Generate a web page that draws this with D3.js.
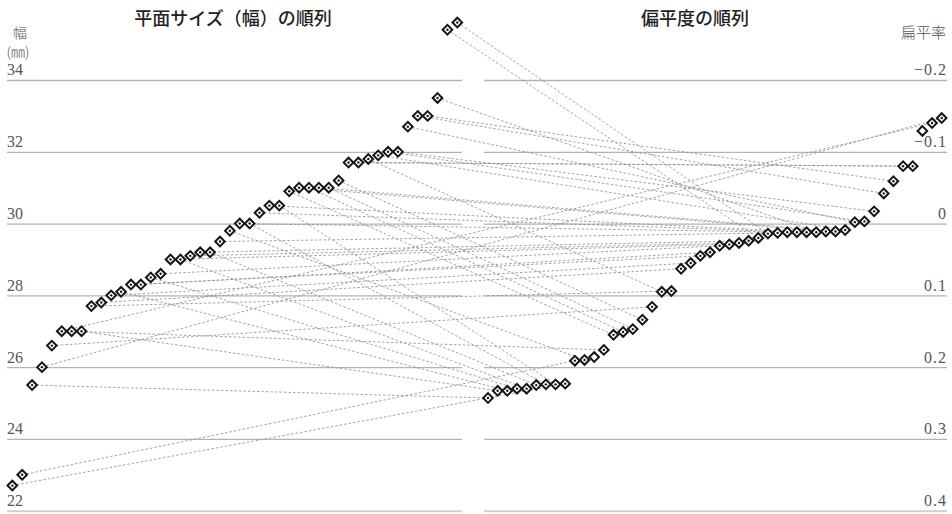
<!DOCTYPE html>
<html><head><meta charset="utf-8">
<script src="https://cdn.jsdelivr.net/npm/d3@7"></script>
<style>body{margin:0;background:#fff}svg{display:block}
.tk text{font-family:"Liberation Serif","DejaVu Serif",serif !important;font-size:16px;fill:#555}</style>
</head><body><svg id="c" width="952" height="514"></svg>
<script>
const widthTicks = [22, 24, 26, 28, 30, 32, 34];
const flatTicks = [-0.2, -0.1, 0, 0.1, 0.2, 0.3, 0.4];
const titleLeft = "平面サイズ（幅）の順列";
const titleRight = "偏平度の順列";
const widthMM = [22.7,23.0,25.5,26.0,26.6,27.0,27.0,27.0,27.7,27.8,28.0,28.1,28.3,28.3,28.5,28.6,29.0,29.0,29.1,29.2,29.2,29.5,29.8,30.0,30.0,30.3,30.5,30.5,30.9,31.0,31.0,31.0,31.0,31.2,31.7,31.7,31.8,31.9,32.0,32.0,32.7,33.0,33.0,33.5,35.4,35.6];
// flatness of the same items, in width order
const flatness = [0.223,0.191,0.243,-0.147,0.116,-0.140,0.176,0.233,0.094,0.063,0.055,0.233,0.045,0.040,0.230,0.031,0.029,0.230,0.027,0.024,0.225,0.013,0.190,0.012,0.224,0.012,0.012,0.224,0.155,0.011,0.151,0.011,0.147,0.134,-0.080,-0.080,0.095,0.009,-0.003,-0.017,-0.002,-0.042,-0.059,0.012,0.020,0.014];
// items with a flatness value but no width
const flatnessNoWidth = [0.186, -0.129];

const svg = d3.select("#c");
const yL = d3.scaleLinear().domain([22, 34]).range([510.7, 80]);
const yR = d3.scaleLinear().domain([-0.2, 0.4]).range([80, 510.7]);

const items = widthMM.map((w, i) => ({id: i, w, f: flatness[i]}));
flatnessNoWidth.forEach((f, k) => items.push({id: widthMM.length + k, w: null, f}));
const leftOrder = items.filter(d => d.w != null);
const rightOrder = items.slice().sort((a, b) => d3.descending(a.f, b.f) || a.id - b.id);

const xL = d3.scalePoint().domain(leftOrder.map(d => d.id)).range([12.3, 457.3]);
const xR = d3.scalePoint().domain(rightOrder.map(d => d.id)).range([488, 941.7]);

// axes / grid
const gL = svg.append("g").attr("class", "tk").attr("transform", "translate(7,0)")
  .call(d3.axisRight(yL).tickValues(widthTicks).tickSize(455).tickFormat(d3.format("d")));
gL.select(".domain").remove();
gL.selectAll(".tick line").attr("stroke-width", d => d === 22 ? 2 : 1.3)
  .attr("stroke", d => d === 22 ? "#cfcfcf" : "#b3b3b3");
gL.selectAll(".tick text").attr("x", 0).attr("dy", "-0.32em").attr("text-anchor", "start");

const gR = svg.append("g").attr("class", "tk").attr("transform", "translate(947,0)")
  .call(d3.axisLeft(yR).tickValues(flatTicks).tickSize(463).tickFormat(d => d === 0 ? "0" : d3.format(".1f")(d)));
gR.select(".domain").remove();
gR.selectAll(".tick line").attr("stroke-width", d => d === 0.4 ? 2 : 1.3)
  .attr("stroke", d => d === 0.4 ? "#cfcfcf" : "#b3b3b3");
gR.selectAll(".tick text").attr("x", 0).attr("dy", "-0.32em").attr("text-anchor", "end")
  .style("letter-spacing", "1px");

// connecting lines
svg.append("g").selectAll("line").data(leftOrder).join("line")
  .attr("x1", d => xL(d.id)).attr("y1", d => yL(d.w))
  .attr("x2", d => xR(d.id)).attr("y2", d => yR(d.f))
  .attr("stroke", "#8c8c8c").attr("stroke-width", 0.8).attr("stroke-dasharray", "2.5,2");

// markers
const sym = d3.symbol(d3.symbolSquare, 46)();
function markers(data, xs, ys) {
  const g = svg.append("g").selectAll("g").data(data).join("g")
    .attr("transform", d => `translate(${xs(d)},${ys(d)})`);
  g.append("path").attr("d", sym).attr("transform", "rotate(45)")
    .attr("fill", "#fff").attr("stroke", "#151515").attr("stroke-width", 2);
  g.filter(d => d.w != null).append("circle").attr("r", 1.2).attr("fill", "#151515");
}
markers(leftOrder, d => xL(d.id), d => yL(d.w));
markers(rightOrder, d => xR(d.id), d => yR(d.f));

// titles
const cjk = "'Noto Sans CJK JP', sans-serif";
svg.append("text").attr("x", 233).attr("y", 25).attr("text-anchor", "middle")
  .style("font-family", cjk).style("font-size", "18px").style("font-weight", 500).attr("fill", "#222").text(titleLeft);
svg.append("text").attr("x", 695).attr("y", 25).attr("text-anchor", "middle")
  .style("font-family", cjk).style("font-size", "18px").style("font-weight", 500).attr("fill", "#222").text(titleRight);
svg.append("text").attr("x", 20).attr("y", 38).attr("text-anchor", "middle")
  .style("font-family", cjk).style("font-size", "14px").style("font-weight", 300).attr("fill", "#555").text("幅");
svg.append("text").attr("x", 18).attr("y", 57).attr("text-anchor", "middle")
  .style("font-family", cjk).style("font-size", "14px").style("font-weight", 300).attr("fill", "#555").text("(㎜)");
svg.append("text").attr("x", 946).attr("y", 38).attr("text-anchor", "end")
  .style("font-family", cjk).style("font-size", "15px").style("font-weight", 300).attr("fill", "#555").text("扁平率");
</script></body></html>
